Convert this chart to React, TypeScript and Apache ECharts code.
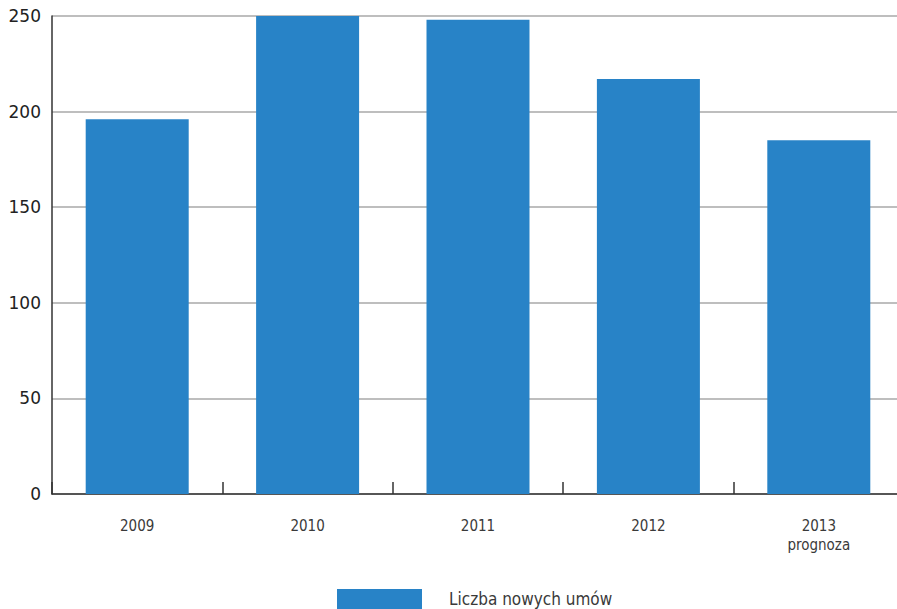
import React, { useEffect, useRef } from "react";
import * as echarts from "echarts";

// Number of new contracts per year (2013 is a forecast)
const years: string[] = ["2009", "2010", "2011", "2012", "2013\nprognoza"];
const contracts: number[] = [196, 250, 248, 217, 185];
const seriesName = "Liczba nowych umów";
const yTicks = { min: 0, max: 250, interval: 50 };

const BAR_BLUE = "#2883c7";
const NARROW = '"Liberation Sans Narrow", "DejaVu Sans Condensed", sans-serif';

export default function App() {
  const ref = useRef<HTMLDivElement>(null);

  useEffect(() => {
    document.body.style.margin = "0";
    if (!ref.current) return;
    const chart = echarts.init(ref.current, undefined, { renderer: "svg" });
    chart.setOption({
      animation: false,
      backgroundColor: "#ffffff",
      grid: { left: 52, top: 16, width: 852, height: 478, containLabel: false },
      xAxis: {
        type: "category",
        data: years,
        axisLine: { show: true, lineStyle: { color: "#333333", width: 1.5 } },
        axisTick: {
          show: true,
          inside: true,
          length: 12,
          alignWithLabel: false,
          lineStyle: { color: "#333333", width: 1.5 },
        },
        axisLabel: {
          margin: 22,
          color: "#3a3a3a",
          fontFamily: NARROW,
          fontSize: 15,
          lineHeight: 19,
        },
        splitLine: { show: false },
      },
      yAxis: {
        type: "value",
        min: yTicks.min,
        max: yTicks.max,
        interval: yTicks.interval,
        axisLine: { show: true, lineStyle: { color: "#333333", width: 1.5 } },
        axisTick: { show: false },
        axisLabel: {
          margin: 11,
          color: "#222222",
          fontFamily: '"DejaVu Sans", sans-serif',
          fontSize: 17,
          padding: [5, 0, 0, 0],
        },
        splitLine: { show: true, lineStyle: { color: "#a8a8a8", width: 1.5 } },
      },
      legend: {
        show: true,
        left: 337,
        top: 589,
        padding: 0,
        itemWidth: 85,
        itemHeight: 20,
        icon: "rect",
        textStyle: {
          color: "#3a3a3a",
          fontFamily: NARROW,
          fontSize: 17,
          padding: [2, 0, 0, 22],
        },
        data: [seriesName],
      },
      series: [
        {
          name: seriesName,
          type: "bar",
          data: contracts,
          barWidth: 103,
          itemStyle: { color: BAR_BLUE },
        },
      ],
    });
    return () => chart.dispose();
  }, []);

  // The plot runs a few pixels past the right edge, so the chart canvas is
  // slightly wider than the visible frame, which clips it.
  return (
    <div
      style={{
        position: "absolute",
        left: 0,
        top: 0,
        width: 897,
        height: 609,
        overflow: "hidden",
      }}
    >
      <div ref={ref} style={{ width: 905, height: 609 }} />
    </div>
  );
}
